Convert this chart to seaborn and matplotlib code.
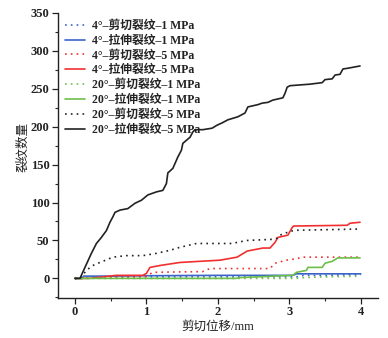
import matplotlib
matplotlib.use("Agg")
import matplotlib.pyplot as plt
import seaborn as sns
import numpy as np
from matplotlib.ticker import MultipleLocator

sns.set_style("ticks")
plt.rcParams['font.family'] = ['Liberation Serif', 'Noto Sans CJK SC', 'DejaVu Sans']
plt.rcParams['axes.unicode_minus'] = False

# ---- data ----
labels = ["4°–剪切裂纹–1 MPa", "4°–拉伸裂纹–1 MPa", "4°–剪切裂纹–5 MPa", "4°–拉伸裂纹–5 MPa",
          "20°–剪切裂纹–1 MPa", "20°–拉伸裂纹–1 MPa", "20°–剪切裂纹–5 MPa", "20°–拉伸裂纹–5 MPa"]

x_4s1 = [0, 0.15, 0.2, 1.2, 3.1, 3.2, 3.5, 4.0]
y_4s1 = [0, 0, 2, 2, 2, 4, 4, 5]

x_4t1 = [0, 0.1, 0.12, 0.5, 1.0, 2.0, 3.05, 3.1, 4.0]
y_4t1 = [0, 0, 3, 3, 3.5, 4, 4, 6, 6]

x_4s5 = [0, 0.9, 1.0, 1.09, 1.79, 1.89, 2.73, 2.80, 2.96, 3.10, 3.19, 3.99]
y_4s5 = [0, 2, 3, 8, 9, 13, 13, 20, 24, 26, 28, 28]

x_4t5 = [0, 0.2, 0.58, 0.95, 1.0, 1.05, 1.19, 1.47, 1.75, 2.03, 2.27, 2.41, 2.63, 2.73,
         2.80, 2.84, 2.98, 3.04, 3.06, 3.81, 3.85, 3.99]
y_4t5 = [0, 0, 4, 4, 6.6, 14.5, 17, 21, 22.5, 24, 28, 36, 40, 40,
         47.5, 54, 57, 67, 69, 70, 72.7, 74]

x_20s1 = [0, 3.1, 3.2, 3.5, 4.0]
y_20s1 = [0, 0, 1, 2, 3]

x_20t1 = [0, 2.25, 2.3, 3.05, 3.10, 3.24, 3.26, 3.46, 3.50, 3.60, 3.68, 3.99]
y_20t1 = [0, 0, 1, 4, 8, 10.5, 14.5, 14.5, 20, 22.5, 27, 27]

x_20s5 = [0, 0.07, 0.14, 0.21, 0.28, 0.39, 0.53, 0.72, 0.95, 1.14, 1.33, 1.47, 1.70,
          2.21, 2.27, 2.41, 2.77, 2.83, 2.87, 3.01, 3.08, 3.95]
y_20s5 = [0, 0, 8, 14.5, 18.5, 22.5, 28, 30, 30, 33, 37, 41, 46,
          46, 47.5, 50, 51.5, 53, 57, 62, 63.4, 65]

x_20t5 = [0, 0.07, 0.14, 0.23, 0.30, 0.37, 0.44, 0.49, 0.53, 0.56, 0.63, 0.74, 0.84, 0.93,
          1.02, 1.14, 1.23, 1.28, 1.30, 1.37, 1.44, 1.49, 1.51, 1.56, 1.61, 1.65, 1.68,
          1.79, 1.92, 1.99, 2.06, 2.14, 2.21, 2.28, 2.38, 2.42, 2.56, 2.62, 2.70, 2.77,
          2.91, 2.94, 2.97, 3.01, 3.15, 3.29, 3.46, 3.50, 3.60, 3.64, 3.71, 3.75, 3.82, 3.99]
y_20t5 = [0, 0, 14.5, 33, 46, 54, 63, 74, 81, 87, 90, 92, 99, 103,
          110, 114, 116, 125, 139, 145, 160, 169, 178, 182, 186, 193, 196,
          196, 198, 202, 205, 209, 211, 213, 218, 226, 229, 231, 232, 235,
          238, 244, 252, 254, 255, 256, 258, 262, 263, 268, 269, 276, 277, 280]

series = [(x_4s1, y_4s1), (x_4t1, y_4t1), (x_4s5, y_4s5), (x_4t5, y_4t5),
          (x_20s1, y_20s1), (x_20t1, y_20t1), (x_20s5, y_20s5), (x_20t5, y_20t5)]
colors = ["#3c64c8", "#3c64c8", "#f03030", "#f03030",
          "#6dbf4a", "#6dbf4a", "#222222", "#222222"]
dotted = (0, (1, 2.5))
styles = [dotted, "-", dotted, "-", dotted, "-", dotted, "-"]

fig = plt.figure(figsize=(3.88, 3.38), dpi=100)
ax = fig.add_axes([0.149, 0.118, 0.825, 0.844])

for (xs, ys), lab, c, ls in zip(series, labels, colors, styles):
    sns.lineplot(x=xs, y=ys, ax=ax, color=c, linestyle=ls, linewidth=1.2,
                 label=lab, estimator=None, sort=False)

ax.set_xlim(-0.24, 4.24)
ax.set_ylim(-26, 350)
ax.xaxis.set_major_locator(MultipleLocator(1))
ax.xaxis.set_minor_locator(MultipleLocator(0.5))
ax.yaxis.set_major_locator(MultipleLocator(50))
ax.yaxis.set_minor_locator(MultipleLocator(25))
ax.tick_params(axis='both', which='major', direction='out', length=4, width=0.9,
               labelsize=9, colors='#222222', pad=2)
ax.tick_params(axis='both', which='minor', direction='out', length=2, width=0.8)
for lbl in ax.get_xticklabels() + ax.get_yticklabels():
    lbl.set_fontweight('bold')
for s in ['top', 'right']:
    ax.spines[s].set_visible(False)
for s in ['left', 'bottom']:
    ax.spines[s].set_linewidth(1.0)
    ax.spines[s].set_color('#222222')

ax.set_xlabel("剪切位移/mm", fontsize=9, labelpad=2, color='#222222')
ax.set_ylabel("裂纹数量", fontsize=9, color='#222222')
ax.yaxis.set_label_coords(-0.09, 0.53)

leg = ax.legend(loc='upper left', bbox_to_anchor=(0.0, 1.0), frameon=False,
                prop={'size': 8.5, 'weight': 'bold'},
                handlelength=1.7, handletextpad=0.6, labelspacing=0.24,
                borderaxespad=0.4, borderpad=0.2)
for t in leg.get_texts():
    t.set_color('#222222')

fig.savefig("out.png", dpi=100, facecolor='white')
